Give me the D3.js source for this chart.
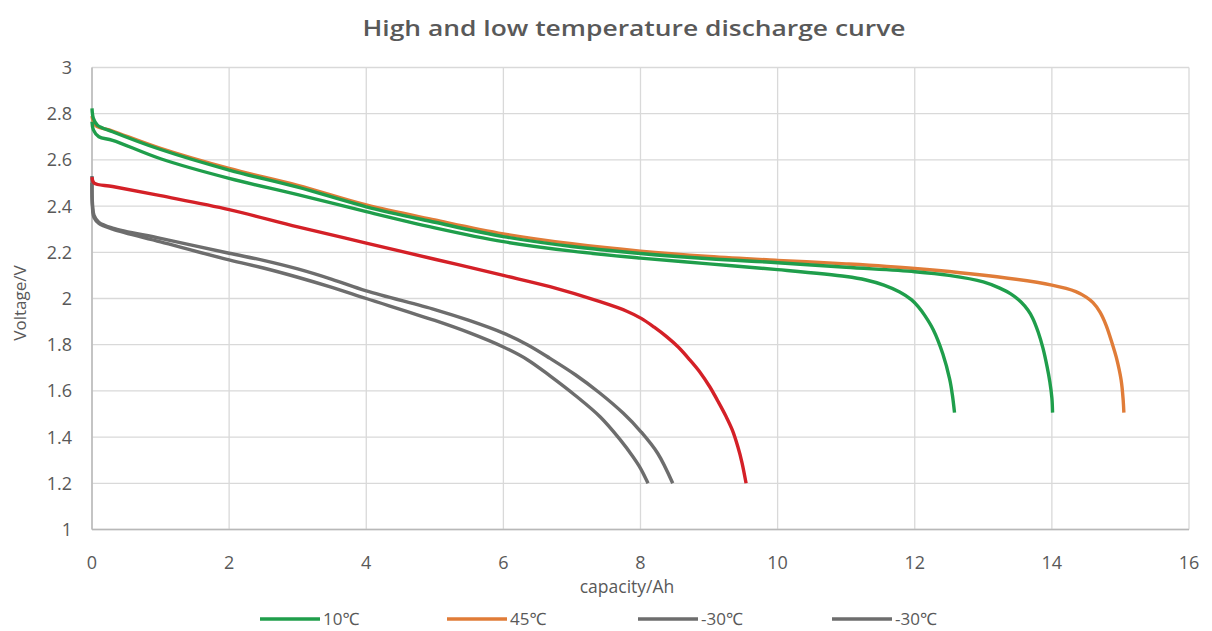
<!DOCTYPE html>
<html><head><meta charset="utf-8">
<script src="https://cdn.jsdelivr.net/npm/d3@7"></script>
<style>
html,body{margin:0;padding:0;background:#fff;}
svg{display:block;font-family:"Open Sans","Noto Sans",sans-serif;}
</style></head>
<body><svg id="c" width="1212" height="631"></svg>
<script>
const xTicks = [0,2,4,6,8,10,12,14,16];
const yTicks = [1,1.2,1.4,1.6,1.8,2,2.2,2.4,2.6,2.8,3];
const yTickLabels = ["1","1.2","1.4","1.6","1.8","2","2.2","2.4","2.6","2.8","3"];

const seriesNames = ["10℃","45℃","-30℃","-30℃"];

const orangeCap = [0,0.05,0.3,1,2,3,4,5,6,7,8,9,10,11,12,13.2,14,14.35,14.5,14.6,14.7,14.79,14.88,14.94,15.01,15.04,15.05];
const orangeV   = [2.79,2.75,2.725,2.65,2.563,2.49,2.405,2.34,2.28,2.237,2.205,2.182,2.165,2.15,2.13,2.094,2.058,2.03,2.006,1.982,1.942,1.885,1.805,1.745,1.647,1.56,1.506];

const green1Cap = [0,0.02,0.08,0.3,1,2,3,4,5,6,7,8,9,10,11,12,12.5,13,13.24,13.4,13.55,13.65,13.72,13.8,13.87,13.93,13.97,14.0,14.01];
const green1V   = [2.823,2.78,2.75,2.722,2.645,2.556,2.482,2.397,2.33,2.268,2.225,2.195,2.172,2.155,2.135,2.116,2.1,2.072,2.045,2.02,1.985,1.95,1.915,1.855,1.785,1.705,1.64,1.57,1.506];

const green2Cap = [0,0.02,0.1,0.3,1,2,3,4,5,6,7,8,9,10,11,11.29,11.55,11.78,11.95,12.05,12.15,12.27,12.41,12.51,12.55,12.58];
const green2V   = [2.765,2.73,2.70,2.685,2.605,2.52,2.45,2.376,2.306,2.246,2.205,2.175,2.15,2.125,2.095,2.08,2.058,2.028,1.995,1.965,1.925,1.865,1.76,1.65,1.58,1.506];

const redCap = [0,0.03,0.3,1,2,3,4,5,6,6.68,7.41,7.8,8.01,8.2,8.38,8.55,8.72,8.87,9.01,9.13,9.25,9.34,9.42,9.48,9.54];
const redV   = [2.525,2.5,2.485,2.445,2.385,2.31,2.24,2.17,2.1,2.051,1.986,1.945,1.914,1.876,1.835,1.79,1.734,1.68,1.618,1.555,1.488,1.43,1.358,1.29,1.2];

const gray1Cap = [0,0.005,0.03,0.1,0.3,1,2,2.5,3,3.5,4,5,5.5,6,6.35,6.68,7.05,7.41,7.75,8.01,8.25,8.47];
const gray1V   = [2.53,2.42,2.36,2.33,2.305,2.26,2.196,2.165,2.128,2.083,2.033,1.952,1.905,1.85,1.8,1.741,1.67,1.59,1.503,1.422,1.33,1.2];

const gray2Cap = [0,0.005,0.03,0.1,0.3,1,2,2.5,3,3.5,4,5,5.5,6,6.35,6.68,7.05,7.41,7.7,7.89,8.0,8.11];
const gray2V   = [2.5,2.40,2.35,2.325,2.3,2.245,2.167,2.132,2.092,2.048,2.0,1.905,1.852,1.79,1.735,1.665,1.58,1.488,1.39,1.315,1.265,1.2];

const colors = {green:"#1f9e4b", orange:"#e07c38", red:"#d42027", gray:"#6d6d6d"};

const svg = d3.select("#c");
const M = {l:92, r:1189, t:67.5, b:529.5};
const x = d3.scaleLinear().domain([0,16]).range([M.l, M.r]);
const y = d3.scaleLinear().domain([1,3]).range([M.b, M.t]);

// gridlines
svg.append("g").selectAll("line").data(yTicks).join("line")
  .attr("x1",M.l).attr("x2",M.r).attr("y1",d=>y(d)).attr("y2",d=>y(d))
  .attr("stroke","#d9d9d9").attr("stroke-width",1.3);
svg.append("g").selectAll("line").data(xTicks).join("line")
  .attr("y1",M.t).attr("y2",M.b).attr("x1",d=>x(d)).attr("x2",d=>x(d))
  .attr("stroke","#d9d9d9").attr("stroke-width",1.3);
// axis lines
svg.append("line").attr("x1",M.l).attr("x2",M.l).attr("y1",M.t).attr("y2",M.b).attr("stroke","#b8b8b8").attr("stroke-width",1.5);
svg.append("line").attr("x1",M.l).attr("x2",M.r).attr("y1",M.b).attr("y2",M.b).attr("stroke","#b8b8b8").attr("stroke-width",1.5);

// tick labels
svg.append("g").selectAll("text").data(yTicks).join("text")
  .attr("x",72).attr("y",d=>y(d)).attr("dy","0.36em").attr("text-anchor","end")
  .attr("font-size",18).attr("fill","#595959").text((d,i)=>yTickLabels[i]);
svg.append("g").selectAll("text").data(xTicks).join("text")
  .attr("x",d=>x(d)).attr("y",569).attr("text-anchor","middle")
  .attr("font-size",18).attr("fill","#595959").text(d=>d);

// axis titles
svg.append("text").attr("x",627).attr("y",593).attr("text-anchor","middle")
  .attr("font-size",17.5).attr("fill","#595959").text("capacity/Ah");
svg.append("text").attr("transform","translate(26,303) rotate(-90)").attr("text-anchor","middle")
  .attr("font-size",17).attr("fill","#595959").text("Voltage/V");

// title
svg.append("text").attr("x",634).attr("y",36).attr("text-anchor","middle")
  .attr("font-size",22).attr("font-weight",600).attr("fill","#595959")
  .attr("textLength",543).attr("lengthAdjust","spacingAndGlyphs")
  .text("High and low temperature discharge curve");

const line = d3.line().x(d=>x(d[0])).y(d=>y(d[1])).curve(d3.curveCatmullRom.alpha(0.5));
const series = [
  {cap:gray2Cap, v:gray2V, c:colors.gray},
  {cap:gray1Cap, v:gray1V, c:colors.gray},
  {cap:redCap, v:redV, c:colors.red},
  {cap:orangeCap, v:orangeV, c:colors.orange},
  {cap:green2Cap, v:green2V, c:colors.green},
  {cap:green1Cap, v:green1V, c:colors.green}
];
svg.append("g").selectAll("path").data(series).join("path")
  .attr("d",s=>line(s.cap.map((c,i)=>[c,s.v[i]])))
  .attr("fill","none").attr("stroke",s=>s.c).attr("stroke-width",3.4)
  .attr("stroke-linejoin","round").attr("stroke-linecap","butt");

// legend
const legend = [
  {name:seriesNames[0], c:colors.green, x1:260, x2:320},
  {name:seriesNames[1], c:colors.orange, x1:447, x2:507},
  {name:seriesNames[2], c:colors.gray, x1:638, x2:698},
  {name:seriesNames[3], c:colors.gray, x1:832, x2:892}
];
const lg = svg.append("g");
legend.forEach(d=>{
  lg.append("line").attr("x1",d.x1).attr("x2",d.x2).attr("y1",619).attr("y2",619)
    .attr("stroke",d.c).attr("stroke-width",3.5);
  lg.append("text").attr("x",d.x2+3).attr("y",619).attr("dy","0.36em")
    .attr("font-size",17).attr("fill","#595959").text(d.name);
});
</script></body></html>
